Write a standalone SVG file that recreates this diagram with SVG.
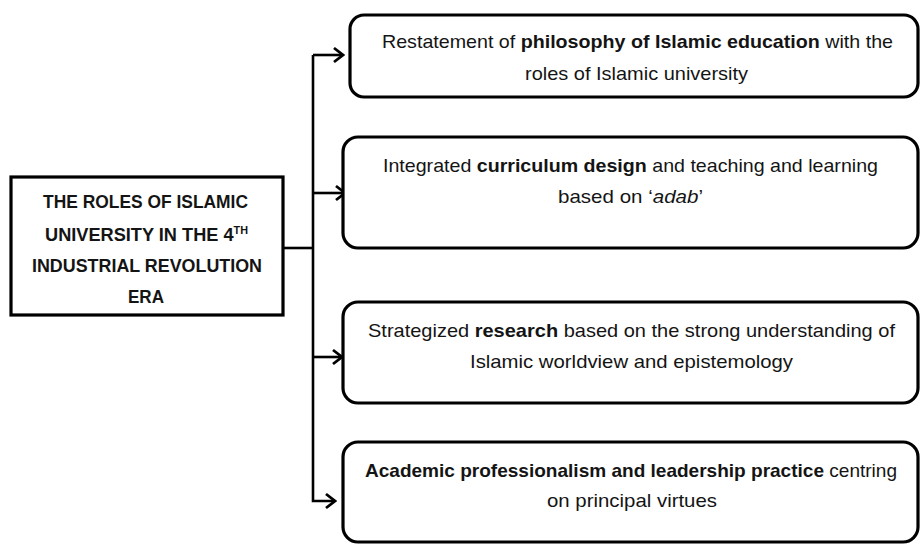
<svg xmlns="http://www.w3.org/2000/svg" width="922" height="544" viewBox="0 0 922 544">
<style>
.box{fill:#fff;stroke:#000;stroke-width:3.2}
.t{font-family:"Liberation Sans",Arial,sans-serif;font-size:19px;fill:#141414}
.h{font-family:"Liberation Sans",Arial,sans-serif;font-size:18.5px;font-weight:bold;fill:#141414}
.b{font-weight:bold}
.i{font-style:italic}
.c{fill:none;stroke:#000;stroke-width:2.6}
</style>
<defs>
<marker id="arr" viewBox="-11 -9 13 18" markerWidth="13" markerHeight="18" refX="0" refY="0" orient="auto" markerUnits="userSpaceOnUse">
<path d="M-9,-7 L0,0 L-9,7" fill="none" stroke="#000" stroke-width="2.8"/>
</marker>
</defs>
<g id="connectors">
<path class="c" d="M283,248 H313"/>
<path class="c" d="M313,55 V501 H335" marker-end="url(#arr)"/>
<path class="c" d="M313,55 H343" marker-end="url(#arr)"/>
<path class="c" d="M313,193 H345" marker-end="url(#arr)"/>
<path class="c" d="M313,357 H342" marker-end="url(#arr)"/>
</g>
<g id="root">
<rect class="box" x="11" y="177" width="272" height="138"/>
<text class="h" x="43" y="208" textLength="205" lengthAdjust="spacingAndGlyphs">THE ROLES OF ISLAMIC</text>
<text class="h" x="45" y="241" textLength="203" lengthAdjust="spacingAndGlyphs">UNIVERSITY IN THE 4<tspan font-size="11" dy="-7">TH</tspan></text>
<text class="h" x="32" y="272" textLength="230" lengthAdjust="spacingAndGlyphs">INDUSTRIAL REVOLUTION</text>
<text class="h" x="128" y="303" textLength="36" lengthAdjust="spacingAndGlyphs">ERA</text>
</g>
<g id="n1">
<rect class="box" x="350" y="15" width="568" height="82" rx="14"/>
<text class="t" x="382" y="48" textLength="511" lengthAdjust="spacingAndGlyphs">Restatement of <tspan class="b">philosophy of Islamic education</tspan> with the</text>
<text class="t" x="525" y="80" textLength="223" lengthAdjust="spacingAndGlyphs">roles of Islamic university</text>
</g>
<g id="n2">
<rect class="box" x="343" y="137" width="575" height="111" rx="15"/>
<text class="t" x="383" y="172" textLength="495" lengthAdjust="spacingAndGlyphs">Integrated <tspan class="b">curriculum design</tspan> and teaching and learning</text>
<text class="t" x="558" y="203" textLength="145" lengthAdjust="spacingAndGlyphs">based on ‘<tspan class="i">adab</tspan>’</text>
</g>
<g id="n3">
<rect class="box" x="343" y="302" width="575" height="101" rx="15"/>
<text class="t" x="368" y="337" textLength="527" lengthAdjust="spacingAndGlyphs">Strategized <tspan class="b">research</tspan> based on the strong understanding of</text>
<text class="t" x="470" y="368" textLength="323" lengthAdjust="spacingAndGlyphs">Islamic worldview and epistemology</text>
</g>
<g id="n4">
<rect class="box" x="343" y="442" width="575" height="100" rx="15"/>
<text class="t" x="365" y="477" textLength="532" lengthAdjust="spacingAndGlyphs"><tspan class="b">Academic professionalism and leadership practice</tspan> centring</text>
<text class="t" x="547" y="507" textLength="170" lengthAdjust="spacingAndGlyphs">on principal virtues</text>
</g>
</svg>
